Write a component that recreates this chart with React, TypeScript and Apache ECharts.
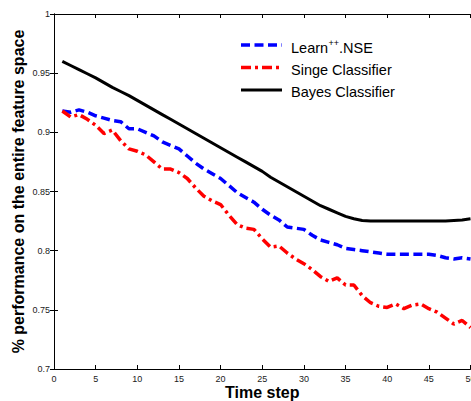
import React, { useEffect, useRef } from "react";
import * as echarts from "echarts";

const timeSteps: number[] = Array.from({ length: 50 }, (_, i) => i + 1);

const learnNSE: number[] = [
  0.918, 0.917, 0.919, 0.917, 0.914, 0.912, 0.910, 0.909, 0.903, 0.903,
  0.900, 0.897, 0.892, 0.889, 0.886, 0.880, 0.874, 0.869, 0.865, 0.861,
  0.855, 0.849, 0.845, 0.841, 0.835, 0.830, 0.826, 0.820, 0.819, 0.818,
  0.813, 0.809, 0.807, 0.805, 0.802, 0.801, 0.800, 0.799, 0.798, 0.797,
  0.797, 0.797, 0.797, 0.797, 0.797, 0.796, 0.794, 0.793, 0.794, 0.793,
];

const singleClassifier: number[] = [
  0.918, 0.913, 0.915, 0.911, 0.906, 0.899, 0.902, 0.893, 0.886, 0.884,
  0.881, 0.875, 0.869, 0.869, 0.866, 0.861, 0.853, 0.846, 0.842, 0.839,
  0.830, 0.822, 0.819, 0.818, 0.810, 0.803, 0.804, 0.798, 0.793, 0.789,
  0.784, 0.778, 0.774, 0.777, 0.771, 0.771, 0.762, 0.756, 0.753, 0.752,
  0.755, 0.751, 0.754, 0.755, 0.751, 0.748, 0.743, 0.738, 0.741, 0.735,
];

const bayesClassifier: number[] = [
  0.960, 0.9565, 0.953, 0.9495, 0.946, 0.942, 0.938, 0.9345, 0.931, 0.927,
  0.923, 0.919, 0.915, 0.911, 0.907, 0.903, 0.899, 0.895, 0.891, 0.887,
  0.883, 0.879, 0.875, 0.871, 0.867, 0.862, 0.858, 0.854, 0.850, 0.846,
  0.842, 0.838, 0.835, 0.832, 0.829, 0.827, 0.8255, 0.825, 0.825, 0.825,
  0.825, 0.825, 0.825, 0.825, 0.825, 0.825, 0.825, 0.8255, 0.826, 0.827,
];

const seriesNames: string[] = ["Learn++.NSE", "Singe Classifier", "Bayes Classifier"];
const xTitle = "Time step";
const yTitle = "% performance on the entire feature space";

const FONT = "'Liberation Sans', Arial, Helvetica, sans-serif";

export default function App() {
  const ref = useRef<HTMLDivElement>(null);

  useEffect(() => {
    document.body.style.margin = "0";
    if (!ref.current) return;
    const chart = echarts.init(ref.current, undefined, { renderer: "svg" });

    const pairs = (vals: number[]) => timeSteps.map((t, i) => [t, vals[i]]);

    const tickLabel = { fontFamily: FONT, fontSize: 9, color: "#1a1a1a" };
    const axisLine = { show: true, lineStyle: { color: "#000", width: 1 } };
    const axisTick = { show: true, inside: true, length: 4, lineStyle: { color: "#000", width: 1 } };

    const legendY = [45, 67.5, 90];
    const legendColors = ["#0000ff", "#ff0000", "#000000"];
    const legendDash: any[] = [[9, 4.5], [10, 4, 3, 4], "solid"];
    const legendWidths = [3.5, 3.5, 3];
    const graphics: any[] = [];
    legendY.forEach((y, i) => {
      graphics.push({
        type: "line",
        shape: { x1: 241, y1: y, x2: 282, y2: y },
        style: { stroke: legendColors[i], lineWidth: legendWidths[i], lineDash: legendDash[i] === "solid" ? null : legendDash[i] },
      });
    });
    graphics.push({
      type: "text",
      x: 291,
      y: legendY[0] + 3,
      style: { text: "Learn", fontFamily: FONT, fontSize: 14.5, fill: "#000", verticalAlign: "middle", align: "left" },
    });
    graphics.push({
      type: "text",
      x: 328.5,
      y: legendY[0] - 2,
      style: { text: "++", fontFamily: FONT, fontSize: 9, fill: "#000", verticalAlign: "middle", align: "left" },
    });
    graphics.push({
      type: "text",
      x: 339,
      y: legendY[0] + 3,
      style: { text: ".NSE", fontFamily: FONT, fontSize: 14.5, fill: "#000", verticalAlign: "middle", align: "left" },
    });
    [1, 2].forEach((i) => {
      graphics.push({
        type: "text",
        x: 291,
        y: legendY[i] + 2,
        style: { text: seriesNames[i], fontFamily: FONT, fontSize: 14.5, fill: "#000", verticalAlign: "middle", align: "left" },
      });
    });

    chart.setOption({
      animation: false,
      backgroundColor: "#fff",
      grid: { left: 54, top: 14, right: 0.5, bottom: 32, containLabel: false, outerBoundsMode: "none" },
      xAxis: [
        {
          type: "value",
          min: 0,
          max: 50,
          interval: 5,
          position: "bottom",
          name: xTitle,
          nameLocation: "middle",
          nameGap: 14,
          nameMoveOverlap: false,
          nameTextStyle: { fontFamily: FONT, fontSize: 16, fontWeight: "bold", color: "#000", lineHeight: 18 },
          axisLine,
          axisTick,
          axisLabel: { ...tickLabel, margin: 5 },
          splitLine: { show: false },
        },
        {
          type: "value",
          min: 0,
          max: 50,
          interval: 5,
          position: "top",
          axisLine,
          axisTick,
          axisLabel: { show: false },
          splitLine: { show: false },
        },
      ],
      yAxis: [
        {
          type: "value",
          min: 0.7,
          max: 1,
          interval: 0.05,
          position: "left",
          name: yTitle,
          nameLocation: "middle",
          nameGap: 27,
          nameMoveOverlap: false,
          nameTextStyle: { fontFamily: FONT, fontSize: 16, fontWeight: "bold", color: "#000", lineHeight: 18 },
          axisLine,
          axisTick,
          axisLabel: { ...tickLabel, margin: 4 },
          splitLine: { show: false },
        },
        {
          type: "value",
          min: 0.7,
          max: 1,
          interval: 0.05,
          position: "right",
          axisLine,
          axisTick,
          axisLabel: { show: false },
          splitLine: { show: false },
        },
      ],
      series: [
        {
          name: seriesNames[0],
          type: "line",
          data: pairs(learnNSE),
          showSymbol: false,
          symbol: "none",
          lineStyle: { color: "#0000ff", width: 3.5, type: [9, 4.5], cap: "butt" },
          z: 3,
        },
        {
          name: seriesNames[1],
          type: "line",
          data: pairs(singleClassifier),
          showSymbol: false,
          symbol: "none",
          lineStyle: { color: "#ff0000", width: 3.5, type: [10, 4, 3, 4], cap: "butt" },
          z: 3,
        },
        {
          name: seriesNames[2],
          type: "line",
          data: pairs(bayesClassifier),
          showSymbol: false,
          symbol: "none",
          lineStyle: { color: "#000000", width: 3, type: "solid" },
          z: 3,
        },
      ],
      graphic: graphics,
    });

    return () => chart.dispose();
  }, []);

  return (
    <div
      ref={ref}
      style={{ position: "absolute", left: 0, top: 0, width: 471, height: 401 }}
    />
  );
}
